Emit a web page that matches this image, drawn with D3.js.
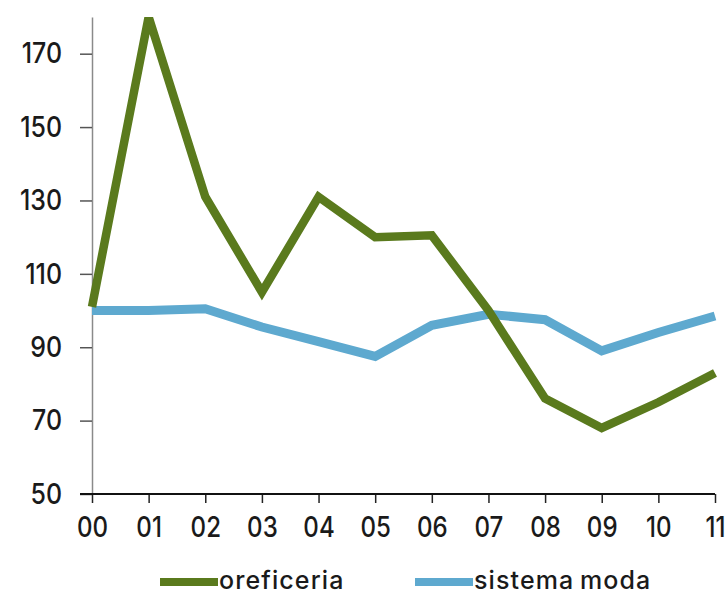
<!DOCTYPE html>
<html>
<head>
<meta charset="utf-8">
<script src="https://cdn.jsdelivr.net/npm/d3@7"></script>
<style>
  html, body { margin: 0; padding: 0; background: #fff; }
  svg { display: block; }
  text { font-family: Inter, "DejaVu Sans", sans-serif; font-variant-numeric: proportional-nums; font-weight: 500; fill: #1a1a1a; }
</style>
</head>
<body>
<svg id="chart" width="726" height="594"></svg>
<script>
// Years (two-digit labels) and index values, 2000 = 100
const years = ["00", "01", "02", "03", "04", "05", "06", "07", "08", "09", "10", "11"];
const oreficeria = [101, 180, 131, 105, 131, 120, 120.5, 100, 76, 68, 75, 83];
const sistemaModa = [100, 100, 100.5, 95.5, 91.5, 87.5, 96, 99, 97.5, 89, 94, 98.5];
const yTicks = [50, 70, 90, 110, 130, 150, 170];
const seriesNames = ["oreficeria", "sistema moda"];
const seriesColors = ["#5a7a1d", "#5ea9cf"];

const svg = d3.select("#chart");

const x = d3.scalePoint().domain(years).range([92, 715]);
const y = d3.scaleLinear().domain([50, 180]).range([494, 17]);
const squeeze = 0.86;

// clip to plot area
svg.append("defs").append("clipPath").attr("id", "plot")
  .append("rect").attr("x", 0).attr("y", y(180)).attr("width", 726).attr("height", y(50) - y(180) + 10);

// y axis
const yAxis = svg.append("g")
  .attr("transform", `translate(${x("00")},0)`)
  .call(d3.axisLeft(y).tickValues(yTicks).tickSize(12).tickSizeOuter(0).tickPadding(18));
yAxis.select(".domain").attr("stroke", "#8a8a8a").attr("stroke-width", 1.5);
yAxis.selectAll(".tick line").attr("stroke", "#555").attr("stroke-width", 1.5);
yAxis.selectAll(".tick text")
  .attr("font-size", 29).attr("fill", "#1a1a1a")
  .attr("x", -30 / squeeze)
  .attr("transform", `scale(${squeeze},1)`);

// x axis
const xAxis = svg.append("g")
  .attr("transform", `translate(0,${y(50)})`)
  .call(d3.axisBottom(x).tickSize(9).tickSizeOuter(0).tickPadding(14));
xAxis.select(".domain").remove();
xAxis.selectAll(".tick line").attr("stroke", "#222").attr("stroke-width", 1.5);
xAxis.selectAll(".tick text")
  .attr("font-size", 28).attr("fill", "#1a1a1a")
  .attr("transform", `scale(${squeeze},1)`);
svg.append("line")
  .attr("x1", x("00") - 12).attr("x2", x("11"))
  .attr("y1", y(50)).attr("y2", y(50))
  .attr("stroke", "#111").attr("stroke-width", 1.8);

// lines
const line = d3.line().x((d, i) => x(years[i])).y(d => y(d));
const plot = svg.append("g").attr("clip-path", "url(#plot)");
plot.append("path").datum(sistemaModa)
  .attr("d", line).attr("fill", "none")
  .attr("stroke", seriesColors[1]).attr("stroke-width", 9);
plot.append("path").datum(oreficeria)
  .attr("d", line).attr("fill", "none")
  .attr("stroke", seriesColors[0]).attr("stroke-width", 8.5);

// legend
const legendX = [160, 415];
const legend = svg.append("g").attr("class", "legend");
seriesNames.forEach((name, i) => {
  legend.append("line")
    .attr("x1", legendX[i]).attr("x2", legendX[i] + 58)
    .attr("y1", 582).attr("y2", 582)
    .attr("stroke", seriesColors[i]).attr("stroke-width", 8);
  legend.append("text")
    .attr("x", legendX[i] + 59).attr("y", 589)
    .attr("font-size", 25).attr("letter-spacing", 1.1).attr("word-spacing", -2)
    .text(name);
});
</script>
</body>
</html>
